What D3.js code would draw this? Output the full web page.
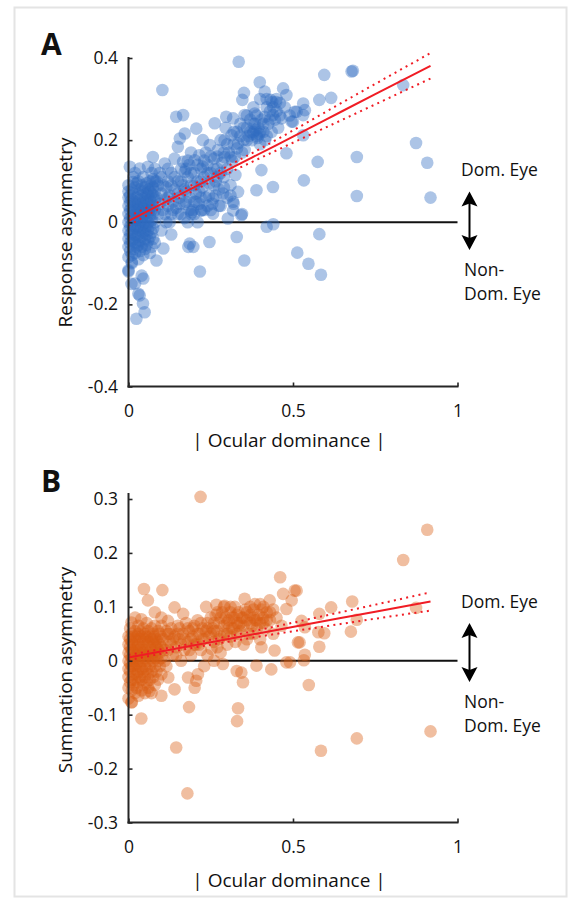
<!DOCTYPE html>
<html>
<head>
<meta charset="utf-8">
<script src="https://cdn.jsdelivr.net/npm/d3@7"></script>
<style>
  html, body { margin: 0; padding: 0; background: #fff; }
  svg { display: block; font-family: "Open Sans", "Noto Sans", sans-serif; }
</style>
</head>
<body>
<svg id="fig" width="569" height="905"></svg>
<script>
// ---- Panel A: |ocular dominance| vs response asymmetry, one [x, y] per cell ----
const responsePoints = [
  // dense core near zero dominance
  [0.000,-0.120],[0.000,-0.085],[0.000,-0.060],[0.000,-0.040],[0.000,-0.020],[0.000,0.000],[0.000,0.020],[0.000,0.040],[0.000,0.060],[0.000,0.075],[0.000,0.090],
  [0.005,-0.070],[0.005,-0.050],[0.005,-0.030],[0.005,-0.010],[0.005,0.010],[0.005,0.030],[0.005,0.050],[0.005,0.065],[0.004,0.135],
  [0.010,-0.100],[0.010,-0.080],[0.010,-0.045],[0.010,-0.025],[0.010,-0.005],[0.010,0.015],[0.010,0.035],[0.010,0.055],[0.010,0.080],[0.014,0.098],
  [0.015,-0.065],[0.015,-0.040],[0.015,-0.015],[0.015,0.005],[0.015,0.025],[0.015,0.045],[0.015,0.070],[0.015,0.110],
  [0.020,-0.075],[0.020,-0.050],[0.020,-0.030],[0.020,-0.010],[0.020,0.010],[0.020,0.030],[0.020,0.050],[0.020,0.085],[0.020,0.120],
  [0.025,-0.060],[0.025,-0.035],[0.025,-0.015],[0.025,0.005],[0.025,0.020],[0.025,0.040],[0.025,0.060],[0.025,0.095],
  [0.030,-0.090],[0.030,-0.055],[0.030,-0.030],[0.030,-0.010],[0.030,0.010],[0.030,0.030],[0.030,0.045],[0.030,0.070],[0.030,0.100],
  [0.035,-0.070],[0.035,-0.045],[0.035,-0.020],[0.035,0.000],[0.035,0.020],[0.035,0.035],[0.035,0.055],[0.035,0.080],[0.034,0.131],
  [0.040,-0.060],[0.040,-0.035],[0.040,-0.015],[0.040,0.005],[0.040,0.025],[0.040,0.045],[0.040,0.065],[0.040,0.090],
  [0.045,-0.080],[0.045,-0.050],[0.045,-0.025],[0.045,-0.005],[0.045,0.015],[0.045,0.035],[0.045,0.050],[0.045,0.075],[0.045,0.110],
  [0.050,-0.065],[0.050,-0.040],[0.050,-0.020],[0.050,0.000],[0.050,0.020],[0.050,0.040],[0.050,0.060],[0.050,0.085],
  [0.055,-0.055],[0.055,-0.030],[0.055,-0.010],[0.055,0.010],[0.055,0.030],[0.055,0.050],[0.055,0.070],[0.055,0.095],[0.059,0.135],
  [0.060,-0.045],[0.060,-0.020],[0.060,0.000],[0.060,0.025],[0.060,0.045],[0.060,0.065],[0.060,0.080],
  [0.065,-0.075],[0.065,-0.035],[0.065,-0.010],[0.065,0.015],[0.065,0.035],[0.065,0.055],[0.065,0.075],[0.065,0.100],
  [0.070,-0.060],[0.070,-0.025],[0.070,0.005],[0.070,0.030],[0.070,0.050],[0.070,0.070],[0.070,0.090],[0.070,0.120],
  [0.075,-0.040],[0.075,-0.015],[0.075,0.020],[0.075,0.040],[0.075,0.065],[0.075,0.085],[0.075,0.105],[0.074,0.159],
  [0.080,-0.050],[0.080,0.000],[0.080,0.030],[0.080,0.055],[0.080,0.075],[0.080,0.100],[0.080,0.130],
  // negative tail
  [0.000,-0.117],[0.009,-0.150],[0.010,-0.097],[0.020,-0.149],[0.030,-0.174],[0.034,-0.178],[0.045,-0.137],[0.044,-0.198],
  [0.049,-0.219],[0.024,-0.235],[0.085,-0.093],[0.106,-0.064],[0.040,-0.130],
  // rising band
  [0.085,0.060],[0.090,0.020],[0.090,0.090],[0.095,0.045],[0.100,-0.020],[0.100,0.070],[0.100,0.110],[0.105,0.030],
  [0.110,0.143],[0.110,0.055],[0.115,0.000],[0.115,0.085],[0.120,0.040],[0.120,0.100],[0.125,0.065],[0.130,-0.030],
  [0.130,0.020],[0.130,0.120],[0.135,0.050],[0.140,0.080],[0.140,0.155],[0.145,0.035],[0.150,0.100],[0.150,0.184],
  [0.145,0.257],[0.103,0.322],
  [0.110,0.020],[0.125,0.000],[0.135,0.030],[0.150,0.020],[0.155,0.045],[0.170,0.010],[0.175,0.050],[0.185,0.030],
  [0.200,0.020],[0.205,0.050],[0.215,0.075],[0.230,0.030],[0.245,0.065],[0.255,0.045],[0.265,0.065],[0.275,0.040],
  [0.290,0.085],[0.310,0.065],[0.120,0.130],[0.095,0.120],[0.085,0.100],[0.105,0.090],
  [0.155,0.060],[0.156,0.204],[0.160,0.130],[0.160,0.020],[0.165,0.090],[0.166,0.147],[0.166,0.261],[0.170,0.045],
  [0.171,0.123],[0.171,0.216],[0.175,0.075],[0.180,0.110],[0.180,0.000],[0.185,0.140],[0.185,0.060],[0.190,0.090],
  [0.190,0.170],[0.195,0.030],[0.200,0.120],[0.201,0.151],[0.205,0.070],[0.206,0.228],[0.210,0.100],[0.210,0.000],
  [0.215,0.163],[0.215,0.045],[0.220,0.130],[0.221,0.029],[0.225,0.085],[0.226,0.200],[0.226,0.135],[0.230,0.110],
  [0.235,0.060],[0.235,0.170],[0.240,0.140],[0.245,0.095],[0.247,0.188],[0.250,0.120],[0.250,0.030],
  [0.200,0.050],[0.220,0.060],[0.240,0.040],[0.260,0.090],[0.280,0.040],[0.190,0.020],[0.300,0.060],[0.270,0.110],
  [0.192,0.025],[0.222,0.029],[0.318,0.029],[0.320,0.045],[0.345,0.020],
  [0.120,0.060],[0.130,0.090],[0.140,0.110],[0.150,0.070],[0.160,0.100],[0.170,0.080],[0.175,0.130],[0.180,0.150],
  [0.190,0.120],[0.200,0.090],[0.210,0.140],[0.220,0.100],[0.230,0.150],[0.240,0.120],[0.250,0.160],[0.260,0.130],
  [0.270,0.160],[0.280,0.120],[0.290,0.170],[0.300,0.190],[0.310,0.160],[0.320,0.220],[0.330,0.180],[0.340,0.210],
  [0.257,0.058],[0.257,0.021],[0.260,0.155],[0.262,0.241],[0.265,0.100],[0.270,0.130],[0.272,0.176],[0.275,0.080],
  [0.280,0.200],[0.285,0.145],[0.287,0.070],[0.290,0.110],[0.292,0.200],[0.292,0.159],[0.295,0.230],[0.297,0.257],
  [0.300,0.130],[0.302,0.009],[0.305,0.170],[0.310,0.090],[0.313,0.212],[0.315,0.150],[0.318,0.253],[0.318,0.050],
  [0.320,0.190],[0.323,0.159],[0.325,0.115],[0.330,0.220],[0.333,0.192],[0.333,0.074],[0.335,0.391],[0.340,0.240],
  [0.343,0.017],[0.345,0.170],[0.346,0.298],[0.350,0.200],[0.351,0.315],[0.353,0.176],[0.353,0.261],
  [0.360,0.230],[0.365,0.210],[0.370,0.250],[0.375,0.200],[0.380,0.220],[0.384,0.265],[0.385,0.240],[0.389,0.078],
  [0.390,0.210],[0.395,0.230],[0.399,0.341],[0.400,0.190],[0.404,0.127],[0.405,0.250],[0.410,0.220],[0.414,0.318],
  [0.414,0.257],[0.415,0.200],[0.420,0.280],[0.425,0.240],[0.430,0.270],[0.432,0.298],[0.435,0.220],[0.437,0.293],
  [0.439,0.261],[0.439,0.086],[0.445,0.250],[0.449,0.293],[0.450,0.270],[0.455,0.230],[0.460,0.260],[0.465,0.253],
  [0.470,0.326],[0.475,0.280],[0.480,0.310],[0.480,0.168],[0.490,0.260],[0.496,0.245],[0.500,0.245],[0.505,0.269],
  [0.378,0.215],[0.392,0.205],[0.386,0.225],[0.398,0.215],
  [0.350,0.230],[0.360,0.200],[0.370,0.220],[0.380,0.240],[0.390,0.260],[0.400,0.220],[0.410,0.240],[0.420,0.210],
  [0.430,0.250],[0.440,0.280],[0.360,0.260],[0.380,0.280],[0.400,0.300],[0.420,0.300],[0.450,0.300],[0.460,0.290],
  // sparse high-dominance cells
  [0.511,0.269],[0.531,0.289],[0.536,0.273],[0.531,0.261],[0.531,0.212],[0.533,0.102],[0.575,0.147],[0.580,0.298],
  [0.595,0.359],[0.616,0.303],[0.678,0.367],[0.682,0.369],[0.694,0.159],[0.694,0.064],[0.835,0.334],[0.874,0.193],
  [0.908,0.145],[0.918,0.060],
  [0.580,-0.029],[0.513,-0.074],[0.547,-0.101],[0.585,-0.128],[0.420,-0.011],[0.440,-0.005],[0.352,-0.093],
  [0.329,-0.036],[0.246,-0.048],[0.217,-0.120],[0.182,-0.060],[0.197,-0.060],[0.186,-0.052]
];

// ---- Panel B: |ocular dominance| vs summation asymmetry ----
const summationPoints = [
  [0.000,-0.070],[0.000,-0.050],[0.000,-0.030],[0.000,-0.015],[0.000,0.000],[0.000,0.015],[0.000,0.030],[0.000,0.045],
  [0.005,-0.040],[0.005,-0.020],[0.005,-0.005],[0.005,0.010],[0.005,0.025],[0.005,0.040],[0.005,0.060],
  [0.010,-0.077],[0.010,-0.055],[0.010,-0.035],[0.010,-0.010],[0.010,0.005],[0.010,0.020],[0.010,0.035],[0.010,0.050],[0.009,0.071],
  [0.015,-0.045],[0.015,-0.025],[0.015,-0.010],[0.015,0.000],[0.015,0.015],[0.015,0.030],[0.015,0.045],
  [0.020,-0.060],[0.020,-0.035],[0.020,-0.015],[0.020,0.005],[0.020,0.020],[0.020,0.040],[0.020,0.055],[0.020,0.080],
  [0.025,-0.050],[0.025,-0.025],[0.025,-0.005],[0.025,0.010],[0.025,0.025],[0.025,0.045],
  [0.030,-0.065],[0.030,-0.040],[0.030,-0.020],[0.030,0.000],[0.030,0.015],[0.030,0.030],[0.030,0.050],[0.030,0.065],
  [0.035,-0.030],[0.035,-0.010],[0.035,0.005],[0.035,0.020],[0.035,0.040],[0.035,0.055],
  [0.040,-0.055],[0.040,-0.035],[0.040,-0.015],[0.040,0.010],[0.040,0.025],[0.040,0.045],[0.039,0.077],
  [0.045,-0.045],[0.045,-0.020],[0.045,0.000],[0.045,0.015],[0.045,0.035],[0.045,0.060],
  [0.050,-0.060],[0.050,-0.030],[0.050,-0.010],[0.050,0.005],[0.050,0.020],[0.050,0.040],[0.050,0.050],
  [0.055,-0.040],[0.055,-0.015],[0.055,0.010],[0.055,0.030],[0.055,0.045],[0.055,0.070],
  [0.060,-0.050],[0.060,-0.025],[0.060,0.000],[0.060,0.015],[0.060,0.035],[0.060,0.055],
  [0.065,-0.035],[0.065,-0.010],[0.065,0.010],[0.065,0.025],[0.065,0.045],
  [0.070,-0.060],[0.070,-0.020],[0.070,0.005],[0.070,0.020],[0.070,0.040],[0.070,0.060],
  [0.075,-0.030],[0.075,0.000],[0.075,0.015],[0.075,0.035],[0.075,0.050],
  [0.080,-0.045],[0.080,-0.010],[0.080,0.010],[0.080,0.030],[0.080,0.045],[0.080,0.065],
  [0.085,-0.020],[0.085,0.005],[0.085,0.025],[0.085,0.040],
  [0.090,-0.035],[0.090,0.000],[0.090,0.020],[0.090,0.035],[0.090,0.055],
  [0.095,-0.010],[0.095,0.015],[0.095,0.030],[0.095,0.050],
  [0.100,-0.025],[0.100,0.005],[0.100,0.025],[0.100,0.045],[0.100,0.065],
  [0.009,-0.077],[0.039,-0.107],[0.064,-0.056],[0.100,-0.065],
  [0.047,0.133],[0.103,0.131],[0.059,0.112],[0.140,0.099],[0.166,0.087],[0.120,0.074],
  [0.105,0.040],[0.110,0.000],[0.115,0.055],[0.120,0.020],[0.121,-0.031],[0.125,0.035],[0.130,0.060],[0.135,0.010],
  [0.140,0.045],[0.140,-0.053],[0.145,0.025],[0.150,0.065],[0.155,0.040],[0.160,0.000],[0.165,0.050],[0.170,0.020],
  [0.175,0.070],[0.180,0.035],[0.181,-0.031],[0.185,0.055],[0.190,0.010],[0.195,0.045],[0.200,0.065],[0.201,-0.050],
  [0.206,-0.037],[0.211,-0.025],[0.205,0.030],[0.210,0.075],[0.215,0.050],[0.220,0.020],[0.225,0.060],[0.230,0.040],
  [0.236,0.100],[0.240,0.070],[0.245,0.045],[0.250,0.080],[0.252,0.022],[0.255,0.060],[0.260,0.035],[0.265,0.085],
  [0.267,0.104],[0.270,0.055],[0.275,0.070],[0.280,0.045],[0.285,0.090],[0.287,-0.006],[0.290,0.065],[0.292,0.102],
  [0.295,0.080],[0.300,0.050],[0.305,0.075],[0.310,0.090],[0.315,0.060],[0.320,0.080],[0.323,0.100],[0.325,0.035],
  [0.329,-0.019],[0.330,0.070],[0.335,0.090],[0.340,0.055],[0.343,-0.022],[0.345,0.080],[0.348,-0.040],[0.350,0.065],
  [0.353,0.115],[0.355,0.095],[0.360,0.075],[0.365,0.050],[0.370,0.085],[0.375,0.065],[0.380,0.095],[0.384,0.105],
  [0.385,0.075],[0.389,-0.009],[0.390,0.060],[0.395,0.085],[0.400,0.070],[0.404,0.025],[0.405,0.095],[0.410,0.080],
  [0.415,0.060],[0.420,0.090],[0.429,0.112],[0.430,0.075],[0.434,-0.016],[0.440,0.050],[0.444,0.019],[0.450,0.080],
  [0.300,0.030],[0.310,0.045],[0.330,0.050],[0.360,0.040],[0.380,0.050],[0.400,0.040],[0.350,0.030],[0.270,0.025],
  [0.240,0.010],[0.230,-0.010],[0.260,0.000],[0.280,0.015],
  [0.120,0.050],[0.130,0.030],[0.150,0.050],[0.160,0.030],[0.180,0.060],[0.190,0.040],[0.210,0.050],[0.220,0.070],
  [0.240,0.060],[0.260,0.070],[0.280,0.080],[0.300,0.070],[0.320,0.060],[0.340,0.070],[0.360,0.090],[0.380,0.080],
  [0.410,0.100],[0.430,0.090],[0.270,0.090],[0.290,0.100],
  [0.110,0.020],[0.115,-0.010],[0.125,0.050],[0.135,0.040],[0.145,0.010],[0.155,0.060],[0.170,0.040],[0.185,0.020],
  [0.195,0.060],[0.200,0.030],[0.215,0.030],[0.225,0.040],[0.235,0.055],[0.250,0.050],[0.260,0.055],[0.275,0.040],
  [0.290,0.050],[0.305,0.060],[0.315,0.080],[0.335,0.065],[0.350,0.080],[0.370,0.070],[0.390,0.075],[0.410,0.070],
  [0.420,0.075],[0.330,0.085],[0.310,0.100],[0.370,0.100],[0.400,0.105],[0.440,0.095],[0.100,0.080],[0.080,0.090],
  [0.461,0.155],[0.465,0.065],[0.470,0.124],[0.480,0.096],[0.480,-0.003],[0.491,-0.003],[0.496,0.112],[0.505,0.130],
  [0.511,0.130],[0.515,0.034],[0.520,0.034],[0.526,0.074],[0.533,0.001],[0.536,0.062],[0.536,0.011],[0.548,-0.045],
  [0.577,0.053],[0.580,0.087],[0.580,0.026],[0.595,0.051],[0.616,0.099],[0.676,0.054],[0.680,0.110],[0.694,0.076],
  [0.835,0.187],[0.874,0.098],[0.908,0.243],[0.219,0.304],[0.145,-0.161],[0.179,-0.246],[0.184,-0.086],[0.333,-0.088],
  [0.330,-0.112],[0.585,-0.167],[0.694,-0.144],[0.918,-0.131]
];

// Linear fits with their confidence bands, sampled along |ocular dominance|
const fitX       = [0, 0.15, 0.30, 0.45, 0.60, 0.75, 0.918];
const fitA       = [0.003, 0.065, 0.127, 0.188, 0.250, 0.312, 0.381];
const fitAUpper  = [0.014, 0.073, 0.136, 0.201, 0.269, 0.337, 0.412];
const fitALower  = [-0.008, 0.057, 0.118, 0.175, 0.231, 0.287, 0.350];
const fitB       = [0.006, 0.023, 0.040, 0.057, 0.074, 0.091, 0.110];
const fitBUpper  = [0.011, 0.027, 0.045, 0.064, 0.084, 0.104, 0.127];
const fitBLower  = [0.001, 0.019, 0.035, 0.050, 0.064, 0.078, 0.093];

const xTicks  = [0, 0.5, 1];
const yTicksA = [-0.4, -0.2, 0, 0.2, 0.4];
const yTicksB = [-0.3, -0.2, -0.1, 0, 0.1, 0.2, 0.3];

const svg = d3.select("#fig");

// light frame around the figure
svg.append("rect")
  .attr("x", 14.5).attr("y", 7.5).attr("width", 552).attr("height", 889)
  .attr("fill", "none").attr("stroke", "#e4e4e4").attr("stroke-width", 2);

const fmt = d => d === 0 ? "0" : String(d);
const AXIS = "#262626";
const INK = "#111";

function panel(cfg) {
  const g = svg.append("g");
  const x = d3.scaleLinear().domain([0, 1]).range([128.5, 457.5]);
  const y = d3.scaleLinear().domain(cfg.yDomain).range(cfg.yRange);

  // zero reference line
  g.append("line")
    .attr("x1", x(0)).attr("x2", x(1)).attr("y1", y(0)).attr("y2", y(0))
    .attr("stroke", "#111").attr("stroke-width", 2);

  // cells
  g.append("g").selectAll("circle").data(cfg.points).join("circle")
    .attr("cx", d => x(d[0])).attr("cy", d => y(d[1])).attr("r", 6.3)
    .attr("fill", cfg.color).attr("fill-opacity", 0.4);

  // fit and confidence band
  const line = d3.line().x((d, i) => x(fitX[i])).y(d => y(d)).curve(d3.curveMonotoneX);
  [cfg.upper, cfg.lower].forEach(arr => {
    g.append("path").attr("d", line(arr)).attr("fill", "none")
      .attr("stroke", "#f01c24").attr("stroke-width", 2).attr("stroke-dasharray", "2,4.3");
  });
  g.append("path").attr("d", line(cfg.fit)).attr("fill", "none")
    .attr("stroke", "#f01c24").attr("stroke-width", 2);

  // axes
  const yAxis = g.append("g").attr("transform", `translate(${x(0)},0)`)
    .call(d3.axisLeft(y).tickValues(cfg.yTicks).tickFormat(fmt).tickSize(-4).tickSizeOuter(0).tickPadding(10.5));
  yAxis.select(".domain").remove();
  yAxis.append("line").attr("x1", 0).attr("x2", 0)
    .attr("y1", y(cfg.yDomain[0]) + 1).attr("y2", cfg.axisTop)
    .attr("stroke", AXIS).attr("stroke-width", 2);

  const xAxis = g.append("g").attr("transform", `translate(0,${y(cfg.yDomain[0])})`)
    .call(d3.axisBottom(x).tickValues(xTicks).tickFormat(fmt).tickSize(-4).tickSizeOuter(0).tickPadding(18));
  xAxis.select(".domain").remove();
  xAxis.append("line").attr("x1", x(0) - 1).attr("x2", x(1) + 1).attr("y1", 0).attr("y2", 0)
    .attr("stroke", AXIS).attr("stroke-width", 2);

  [yAxis, xAxis].forEach(a => {
    a.selectAll(".tick line").attr("stroke", AXIS).attr("stroke-width", 1.6);
    a.selectAll(".tick text").attr("fill", INK).style("font-size", "17.5px")
      .style("font-family", "'Open Sans', 'Noto Sans', sans-serif");
  });

  // axis titles
  g.append("text").attr("x", 289).attr("y", cfg.xTitleY).attr("text-anchor", "middle")
    .attr("font-size", 19).attr("fill", INK).text("| Ocular dominance |");
  g.append("text").attr("transform", `translate(72,${cfg.yTitleY}) rotate(-90)`)
    .attr("text-anchor", "middle").attr("font-size", 19).attr("fill", INK).text(cfg.yTitle);

  // panel letter
  g.append("text").attr("x", 41).attr("y", cfg.letterY).attr("font-size", 30)
    .attr("font-weight", 700).attr("fill", INK).text(cfg.letter);

  // dominant / non-dominant eye annotation
  const a = cfg.ann, ax = 469.5;
  g.append("text").attr("x", 461).attr("y", a.dom).attr("font-size", 17.5).attr("fill", INK).text("Dom. Eye");
  g.append("text").attr("x", 464).attr("y", a.non).attr("font-size", 17.5).attr("fill", INK).text("Non-");
  g.append("text").attr("x", 464).attr("y", a.non + 24).attr("font-size", 17.5).attr("fill", INK).text("Dom. Eye");
  g.append("line").attr("x1", ax).attr("x2", ax).attr("y1", a.top + 10).attr("y2", a.bottom - 10)
    .attr("stroke", "#000").attr("stroke-width", 2);
  const head = (tipY, dir) => `M${ax},${tipY} L${ax + 8},${tipY + dir * 15} L${ax},${tipY + dir * 12} L${ax - 8},${tipY + dir * 15} Z`;
  g.append("path").attr("d", head(a.top, 1)).attr("fill", "#000");
  g.append("path").attr("d", head(a.bottom, -1)).attr("fill", "#000");
}

panel({
  letter: "A", letterY: 55, points: responsePoints, color: "#2f6bc0",
  yDomain: [-0.4, 0.4], yRange: [386.5, 58], yTicks: yTicksA, axisTop: 57,
  fit: fitA, upper: fitAUpper, lower: fitALower,
  yTitle: "Response asymmetry", yTitleY: 232.5, xTitleY: 447,
  ann: { dom: 176, top: 191.5, bottom: 250, non: 276 }
});

panel({
  letter: "B", letterY: 492, points: summationPoints, color: "#d95c11",
  yDomain: [-0.3, 0.3], yRange: [822.5, 499], yTicks: yTicksB, axisTop: 493,
  fit: fitB, upper: fitBUpper, lower: fitBLower,
  yTitle: "Summation asymmetry", yTitleY: 670, xTitleY: 887,
  ann: { dom: 608, top: 623, bottom: 682, non: 708 }
});
</script>
</body>
</html>
